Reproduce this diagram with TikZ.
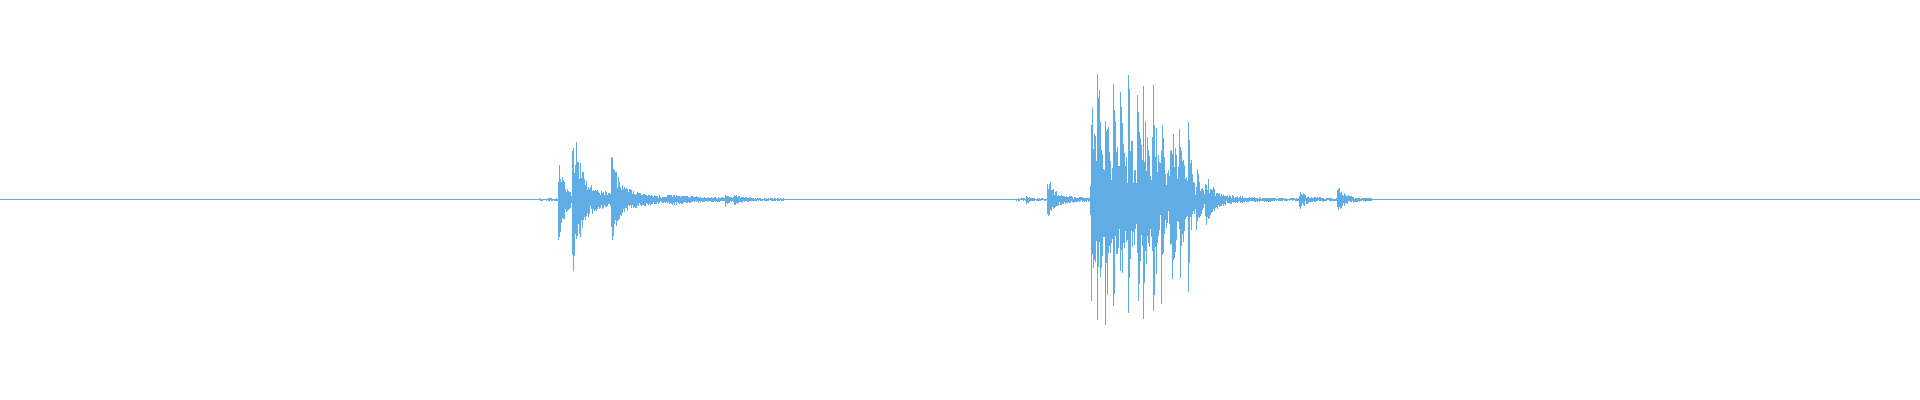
\documentclass[tikz,border=0pt]{standalone}
\definecolor{wave}{RGB}{96,172,228}
\begin{document}
\begin{tikzpicture}[x=1.2245pt,y=-1.2245pt,
  wv/.style={draw=wave,line width=0.5pt},
  declare function={
    b(\x,\s,\a,\d)=(\x>=\s)*\a*exp(-min(max(\x-\s,0)/\d,20));
    envA(\x)=b(\x,456,34,6)+b(\x,467,66,5)+b(\x,470,14,25)+b(\x,499,36,4)+b(\x,500,8,25)+b(\x,545,2,30)+b(\x,592,4,4)+b(\x,600,3,6);
    envB(\x)=b(\x,838,3,3)+b(\x,855,18,4)+b(\x,856,5,18)
      +b(\x,891,105,3)+b(\x,896,100,3)+b(\x,903,80,3)+b(\x,909,85,3)+b(\x,915,80,3)+b(\x,921,95,3)
      +b(\x,929,85,3)+b(\x,934,75,3)+b(\x,941,105,3)+b(\x,948,55,3)+b(\x,956,75,3)+b(\x,963,45,3)
      +b(\x,970,70,3)+b(\x,977,25,4)+b(\x,984,15,6)+b(\x,985,5,25)
      +(\x>=890)*(\x<=970)*18
      +b(\x,1061,8,3)+b(\x,1062,2,15)+b(\x,1092,10,4)+b(\x,1093,2,15);
  }]
\useasboundingbox (0,0) rectangle (1568,326.6);
\pgfmathsetseed{7}
\def\cy{163}
\draw[wv] (0,\cy) -- (1568,\cy);
\foreach \x in {440,440.5,...,640}{
  \pgfmathsetmacro\e{1+envA(\x)}
  \pgfmathsetmacro\u{\e*(0.4+0.6*rnd)}
  \pgfmathsetmacro\dd{\e*(0.4+0.6*rnd)}
  \draw[wv] (\x,\cy-\u) -- (\x,\cy+\dd);
}
\foreach \x in {830,830.5,...,1120}{
  \pgfmathsetmacro\e{min(1+envB(\x),108)}
  \pgfmathsetmacro\u{\e*(0.3+0.7*rnd)}
  \pgfmathsetmacro\dd{\e*(0.3+0.7*rnd)}
  \draw[wv] (\x,\cy-\u) -- (\x,\cy+\dd);
}
\end{tikzpicture}
\end{document}
